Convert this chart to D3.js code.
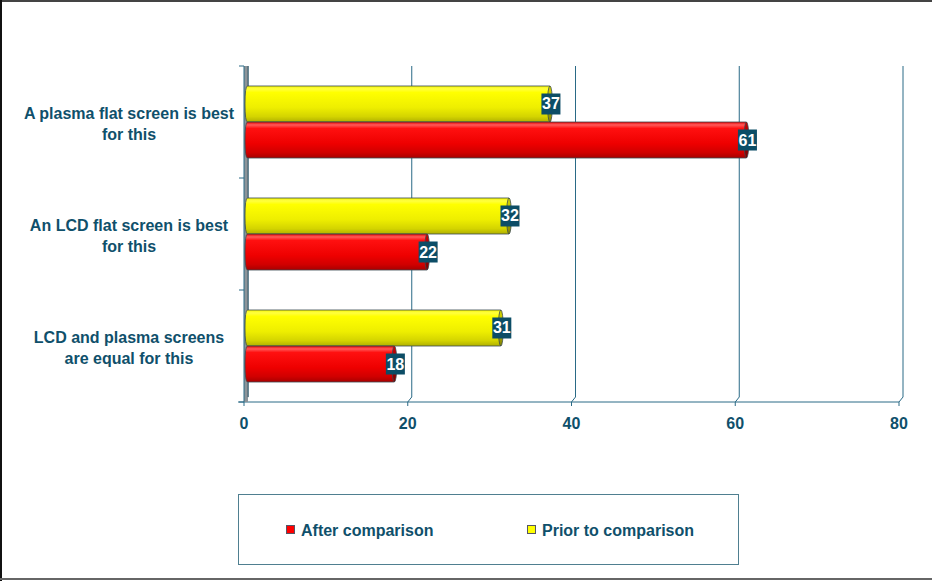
<!DOCTYPE html>
<html>
<head>
<meta charset="utf-8">
<script src="https://cdn.jsdelivr.net/npm/d3@7/dist/d3.min.js"></script>
<style>
  html, body { margin: 0; padding: 0; background: #fff; }
  svg { display: block; }
  text { font-family: "Liberation Sans", Arial, sans-serif; font-weight: bold; }
</style>
</head>
<body>
<svg id="chart" width="932" height="581"></svg>
<script>
// Survey answers, percent of respondents
const categories = [
  ["A plasma flat screen is best", "for this"],
  ["An LCD flat screen is best", "for this"],
  ["LCD and plasma screens", "are equal for this"]
];
const seriesNames = ["Prior to comparison", "After comparison"];
const priorValues = [37, 32, 31];
const afterValues = [61, 22, 18];
const xTicks = [0, 20, 40, 60, 80];

const ink = "#0f506b";
const gridColor = "#2a6a86";
const depth = { dx: 4, dy: -5 };

const svg = d3.select("#chart");

// frame
svg.append("line").attr("x1", 0).attr("x2", 932).attr("y1", 1).attr("y2", 1)
  .attr("stroke", "#444").attr("stroke-width", 2);
svg.append("line").attr("x1", 1).attr("x2", 1).attr("y1", 0).attr("y2", 581)
  .attr("stroke", "#111").attr("stroke-width", 2);
svg.append("line").attr("x1", 0).attr("x2", 932).attr("y1", 579).attr("y2", 579)
  .attr("stroke", "#666").attr("stroke-width", 2);

const x = d3.scaleLinear().domain([0, 80]).range([244, 899]);
const y = d3.scaleBand().domain(d3.range(categories.length)).range([66, 402]);
const inner = d3.scaleBand().domain(seriesNames).range([0, y.bandwidth()]).paddingOuter(0.555);

const floorY = 402;
const topY = 66;

// gradients
const defs = svg.append("defs");
function grad(id, stops) {
  const g = defs.append("linearGradient").attr("id", id)
    .attr("x1", 0).attr("y1", 0).attr("x2", 0).attr("y2", 1);
  stops.forEach(s => g.append("stop").attr("offset", s[0]).attr("stop-color", s[1]));
}
grad("gYellow", [[0, "#f4f400"], [0.08, "#ffff40"], [0.18, "#ffff00"], [0.6, "#eeee00"], [0.85, "#d4d400"], [1, "#b0b000"]]);
grad("gRed", [[0, "#e80000"], [0.08, "#ff5a5a"], [0.18, "#ff1010"], [0.6, "#ee0000"], [0.85, "#d00000"], [1, "#a80000"]]);
grad("gYellowCap", [[0, "#d8d800"], [1, "#8a8a00"]]);
grad("gRedCap", [[0, "#cc0000"], [1, "#800000"]]);

const fills = { "Prior to comparison": "url(#gYellow)", "After comparison": "url(#gRed)" };
const capFills = { "Prior to comparison": "url(#gYellowCap)", "After comparison": "url(#gRedCap)" };
const legendColors = { "After comparison": "#ff0000", "Prior to comparison": "#ffff00" };

// back gridlines with floor perspective
const grid = svg.append("g");
xTicks.forEach(t => {
  const xf = x(t), xb = x(t) + depth.dx;
  grid.append("path")
    .attr("d", `M${xb},${topY} L${xb},${floorY + depth.dy} L${xf},${floorY} L${xf},${floorY + 4}`)
    .attr("fill", "none").attr("stroke", gridColor).attr("stroke-width", 1);
});
// floor front edge
grid.append("line").attr("x1", 238).attr("x2", x(80)).attr("y1", floorY).attr("y2", floorY)
  .attr("stroke", gridColor);

// left wall
grid.append("rect").attr("x", x(0)).attr("y", topY).attr("width", depth.dx)
  .attr("height", floorY - topY).attr("fill", "#8c9499");
grid.append("line").attr("x1", x(0)).attr("x2", x(0)).attr("y1", topY).attr("y2", floorY)
  .attr("stroke", gridColor);
grid.append("line").attr("x1", x(0) + depth.dx).attr("x2", x(0) + depth.dx).attr("y1", topY).attr("y2", floorY + depth.dy)
  .attr("stroke", "#3c5a68");
// category ticks on the left axis
const bounds = y.domain().map(i => y(i)).concat([floorY]);
bounds.forEach(b => {
  grid.append("line").attr("x1", 239).attr("x2", x(0)).attr("y1", b).attr("y2", b)
    .attr("stroke", gridColor);
});

// bars
const rows = categories.map((c, i) => ({
  i,
  values: [
    { name: "Prior to comparison", value: priorValues[i] },
    { name: "After comparison", value: afterValues[i] }
  ]
}));

const barsG = svg.append("g");
rows.forEach(r => {
  r.values.forEach(d => {
    const y0 = y(r.i) + inner(d.name);
    const h = inner.bandwidth();
    const x0 = x(0) + 1;
    const x1 = x(d.value) + depth.dx - 1;
    const rx = 2.5;
    barsG.append("path")
      .attr("d", `M${x0 + rx},${y0} L${x1},${y0} L${x1},${y0 + h} L${x0 + rx},${y0 + h} Q${x0},${y0 + h} ${x0},${y0 + h / 2} Q${x0},${y0} ${x0 + rx},${y0} Z`)
      .attr("fill", fills[d.name])
      .attr("stroke", "#3a4a50").attr("stroke-width", 0.8);
    barsG.append("ellipse")
      .attr("cx", x1).attr("cy", y0 + h / 2).attr("rx", rx).attr("ry", h / 2)
      .attr("fill", capFills[d.name]).attr("stroke", "#3a4a50").attr("stroke-width", 0.8);
  });
});

// value labels
const labelsG = svg.append("g");
rows.forEach(r => {
  r.values.forEach(d => {
    const cy = y(r.i) + inner(d.name) + inner.bandwidth() / 2;
    const cx = x(d.value) + depth.dx;
    const txt = String(d.value);
    const w = txt.length * 9 + 1;
    labelsG.append("rect").attr("x", cx - w / 2).attr("y", cy - 10.5)
      .attr("width", w).attr("height", 21).attr("fill", "#0c4d66");
    labelsG.append("text").attr("x", cx).attr("y", cy + 5.5)
      .attr("text-anchor", "middle").attr("fill", "#fff")
      .attr("font-size", 16).text(txt);
  });
});

// category labels
categories.forEach((lines, i) => {
  const cy = y(i) + y.bandwidth() / 2;
  const t = svg.append("text").attr("text-anchor", "middle")
    .attr("fill", ink).attr("font-size", 16);
  lines.forEach((ln, k) => {
    t.append("tspan").attr("x", 129).attr("y", cy - 3 + k * 21).text(ln);
  });
});

// x axis labels
xTicks.forEach(t => {
  svg.append("text").attr("x", x(t)).attr("y", 429)
    .attr("text-anchor", "middle").attr("fill", ink).attr("font-size", 16).text(t);
});

// legend
const legend = svg.append("g");
legend.append("rect").attr("x", 238.5).attr("y", 494.5).attr("width", 500).attr("height", 70)
  .attr("fill", "#fff").attr("stroke", "#4f7f90").attr("stroke-width", 1);
const legendItems = [
  { name: "After comparison", x: 286 },
  { name: "Prior to comparison", x: 527 }
];
legendItems.forEach(it => {
  legend.append("rect").attr("x", it.x + 0.5).attr("y", 525.5).attr("width", 8).attr("height", 8)
    .attr("fill", legendColors[it.name]).attr("stroke", "#556").attr("stroke-width", 1);
  legend.append("text").attr("x", it.x + 15).attr("y", 536)
    .attr("fill", ink).attr("font-size", 16).text(it.name);
});
</script>
</body>
</html>
